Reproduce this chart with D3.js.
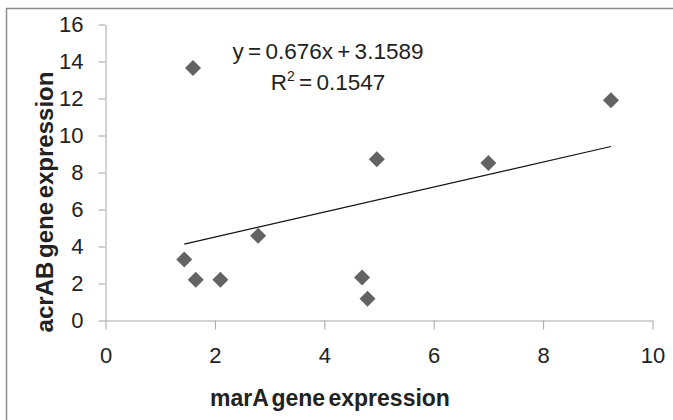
<!DOCTYPE html>
<html>
<head>
<meta charset="utf-8">
<script src="https://cdn.jsdelivr.net/npm/d3@7"></script>
<style>
  body { margin: 0; background: #fff; }
  text { font-family: "Liberation Sans", Arial, sans-serif; fill: #222; }
  .axis path, .axis line { stroke: #a6a6a6; }
</style>
</head>
<body>
<script>
//chart values
var marA = [1.44, 1.60, 1.65, 2.10, 2.79, 4.69, 4.79, 4.96, 7.00, 9.24];
var acrAB = [3.30, 13.65, 2.20, 2.20, 4.58, 2.33, 1.17, 8.72, 8.52, 11.90];
var xTicks = [0, 2, 4, 6, 8, 10];
var yTicks = [0, 2, 4, 6, 8, 10, 12, 14, 16];
var slope = 0.676, intercept = 3.1589, r2 = "0.1547";

//frame
var width = 673,
    height = 420;

var svg = d3.select("body")
    .append("svg")
    .attr("width", width)
    .attr("height", height);

//chart area border (runs off the right and bottom edge)
svg.append("rect")
    .attr("x", 6.5)
    .attr("y", 8.5)
    .attr("width", 700)
    .attr("height", 440)
    .attr("fill", "#fff")
    .attr("stroke", "#8c8c8c")
    .attr("stroke-width", 1.5);

var x = d3.scaleLinear()
    .domain([0, 10])
    .range([105.5, 652.5]);

var y = d3.scaleLinear()
    .domain([0, 16])
    .range([320.5, 24.5]);

//axes
svg.append("g")
    .attr("class", "axis")
    .attr("transform", "translate(0," + y(0) + ")")
    .call(d3.axisBottom(x).tickValues(xTicks).tickSize(9).tickSizeOuter(0).tickPadding(18));

svg.append("g")
    .attr("class", "axis")
    .attr("transform", "translate(" + x(0) + ",0)")
    .call(d3.axisLeft(y).tickValues(yTicks).tickSize(7).tickSizeOuter(0).tickPadding(15));

svg.selectAll(".axis text")
    .style("font-size", "22px")
    .style("fill", "#222");

svg.selectAll(".axis .domain")
    .attr("stroke", "#a6a6a6");

//trend line
var xs = d3.extent(marA);
var line = d3.line()
    .x(function(d){ return x(d); })
    .y(function(d){ return y(slope * d + intercept); });

svg.append("path")
    .datum(xs)
    .attr("d", line)
    .attr("fill", "none")
    .attr("stroke", "#111")
    .attr("stroke-width", 1.2);

//points
var diamond = d3.symbol().type(d3.symbolSquare).size(128);

svg.selectAll(".pt")
    .data(marA)
    .enter()
    .append("path")
    .attr("class", "pt")
    .attr("d", diamond)
    .attr("transform", function(d, i){
        return "translate(" + x(d) + "," + y(acrAB[i]) + ") rotate(45)";
    })
    .attr("fill", "#636363");

//equation
svg.append("text")
    .attr("x", 328)
    .attr("y", 59)
    .attr("text-anchor", "middle")
    .style("font-size", "22.5px")
    .style("word-spacing", "-2px")
    .text("y = " + slope + "x + " + intercept);

var rt = svg.append("text")
    .attr("x", 328)
    .attr("y", 90)
    .attr("text-anchor", "middle")
    .style("font-size", "22.5px")
    .style("word-spacing", "-2px");
rt.append("tspan").text("R");
rt.append("tspan").attr("dy", -9).style("font-size", "14px").text("2");
rt.append("tspan").attr("dy", 9).text(" = " + r2);

//axis titles
svg.append("text")
    .attr("x", 330)
    .attr("y", 406)
    .attr("text-anchor", "middle")
    .style("font-size", "23px")
    .style("font-weight", "bold")
    .style("word-spacing", "-3px")
    .text("marA gene expression");

svg.append("text")
    .attr("transform", "translate(53,202) rotate(-90)")
    .attr("text-anchor", "middle")
    .style("font-size", "24px")
    .style("font-weight", "bold")
    .style("word-spacing", "-3px")
    .text("acrAB gene expression");
</script>
</body>
</html>
